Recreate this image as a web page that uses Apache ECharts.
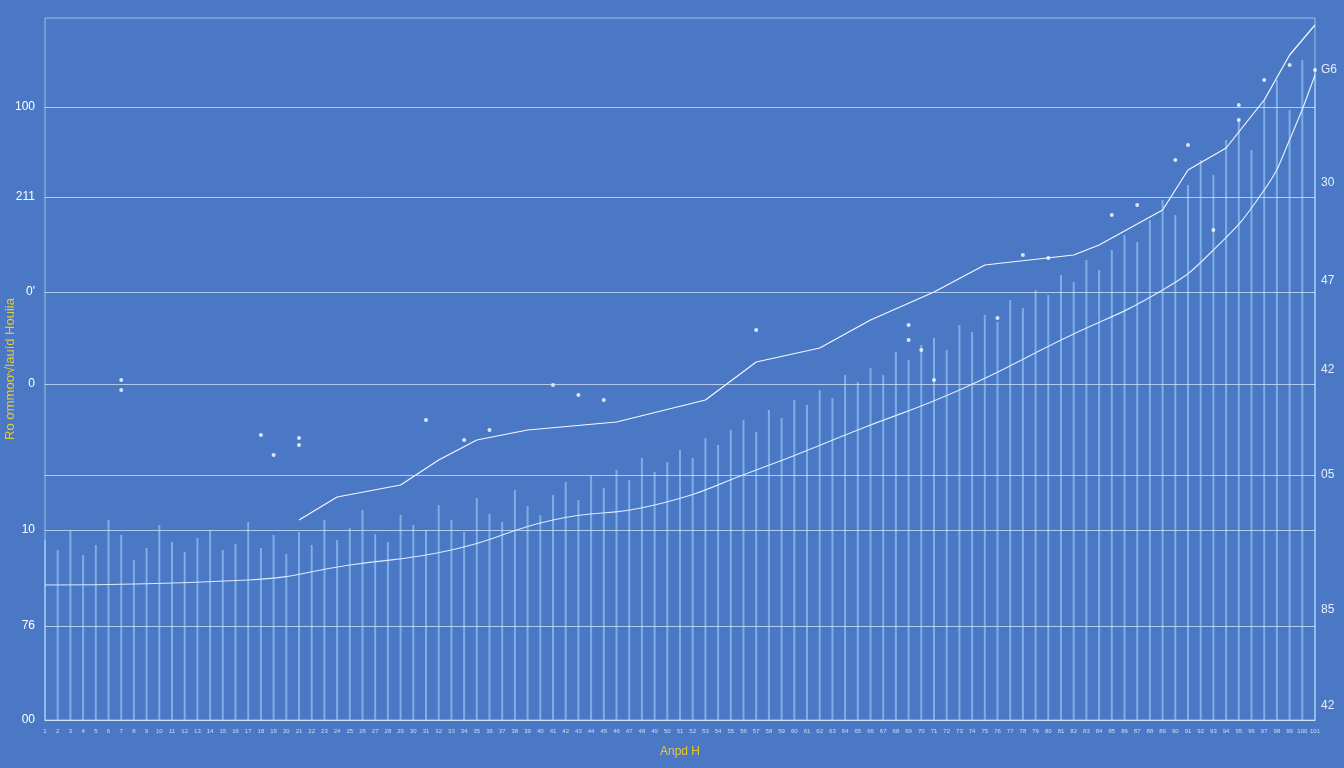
<!DOCTYPE html><html><head><meta charset="utf-8">
<script src="https://cdn.jsdelivr.net/npm/echarts@6/dist/echarts.min.js"></script>
<style>html,body{margin:0;background:#4a78c4}#c{width:1344px;height:768px}</style></head><body><div id="c"></div>
<script>
const categories = Array.from({length:101},(_,i)=>String(i+1));
const barValues = [180,170,190,165,175,200,185,160,172,195,178,168,182,190,170,176,198,172,185,166,
188,175,200,180,192,210,186,178,205,195,190,215,200,188,222,206,198,230,214,205,
225,238,220,245,232,250,240,262,248,258,270,262,282,275,290,300,288,310,302,320,
315,330,322,345,338,352,345,368,360,375,382,370,395,388,405,398,420,412,430,425,
445,438,460,450,470,485,478,500,520,505,535,560,545,580,600,570,620,640,610,660,650];
const upperLine = [null,null,null,null,null,null,null,null,null,null,null,null,null,null,null,null,null,null,null,null,
200,null,null,223,null,null,null,null,235,null,null,260,null,null,280,null,null,null,290,null,
null,null,null,null,null,298,null,null,null,null,null,null,320,null,null,null,358,null,null,null,
null,372,null,null,null,400,null,null,null,null,428,null,null,null,455,null,null,null,null,null,
null,465,null,475,null,null,null,null,510,null,550,null,null,572,null,null,620,null,665,null,695];
const lowerLine = [135,null,null,null,null,null,null,null,null,null,null,null,null,null,null,null,140,null,null,null,
null,null,null,null,155,null,null,null,null,null,null,null,170,null,null,null,null,null,null,null,
200,null,null,null,null,null,null,null,215,null,null,null,null,null,null,null,250,null,null,null,
null,null,null,null,290,null,null,null,null,null,null,null,330,null,null,null,null,null,null,null,
380,null,null,null,null,null,null,null,430,null,null,null,470,null,null,null,530,null,580,null,645];
const dots = [[6,340],[6,330],[17,285],[18,265],[20,275],[20,282],[40,335],[42,325],[44,320],[35,290],[30,300],[33,280],
[56,390],[68,395],[68,380],[69,370],[70,340],[75,402],[77,465],[79,462],[84,505],[86,515],[90,575],[89,560],[94,615],[94,600],[96,640],[98,655],[92,490],[100,650]];
const leftTicks = [[720,'00'],[626,'76'],[530,'10'],[475,''],[384,'0'],[292,'0\''],[197,'211'],[107,'100']];
const rightTicks = [[706,'42'],[610,'85'],[475,'05'],[370,'42'],[281,'47'],[183,'30'],[70,'G6']];
const ml = leftTicks.map(t=>({yAxis:720-t[0],label:{show:true,position:'start',formatter:t[1],color:'#fff',fontSize:12,distance:10}}));
const mr = rightTicks.map(t=>({yAxis:720-t[0],label:{show:true,position:'end',formatter:t[1],color:'#e8eefc',fontSize:12,distance:6}}));
const chart = echarts.init(document.getElementById('c'));
chart.setOption({
 backgroundColor:'#4a78c4', animation:false,
 grid:{left:45,right:29,top:18,bottom:48,containLabel:false,outerBoundsMode:'none',show:true,borderColor:'rgba(220,235,255,0.6)',borderWidth:1},
 xAxis:{type:'category',data:categories,boundaryGap:false,axisTick:{show:false},axisLine:{lineStyle:{color:'rgba(220,235,255,0.7)'}},
   axisLabel:{color:'rgba(230,240,255,0.8)',fontSize:6,interval:0},
   name:'Anpd H',nameLocation:'middle',nameGap:26,nameTextStyle:{color:'#e8c830',fontSize:12}},
 yAxis:{type:'value',min:0,max:702,interval:702,axisLabel:{show:false},splitLine:{show:false},axisLine:{show:false},
   name:'Ro ơmmoơ√lauíd Houiia',nameLocation:'middle',nameGap:28,nameTextStyle:{color:'#e8c830',fontSize:13}},
 series:[
  {type:'bar',data:barValues,barWidth:2,itemStyle:{color:'rgba(160,210,250,0.6)'},
   markLine:{symbol:'none',silent:true,lineStyle:{color:'rgba(220,235,255,0.7)',type:'solid',width:1},data:ml}},
  {type:'line',data:[],markLine:{symbol:'none',silent:true,lineStyle:{color:'rgba(0,0,0,0)',width:0},data:mr}},
  {type:'line',data:upperLine,connectNulls:true,showSymbol:false,lineStyle:{color:'#f4f8ff',width:1.2}},
  {type:'line',data:lowerLine,connectNulls:true,showSymbol:false,smooth:true,lineStyle:{color:'#dcebff',width:1.2}},
  {type:'scatter',data:dots,symbolSize:4,itemStyle:{color:'#ffffff'}}
 ]
});
</script></body></html>
